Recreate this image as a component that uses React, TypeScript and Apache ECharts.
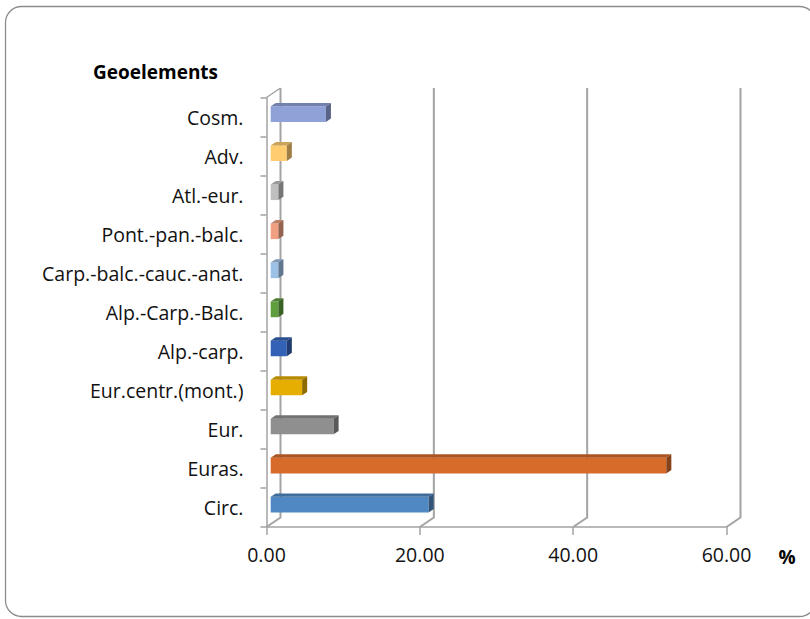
import React, { useEffect, useRef } from "react";
import * as echarts from "echarts";

const categories = [
  "Circ.",
  "Euras.",
  "Eur.",
  "Eur.centr.(mont.)",
  "Alp.-carp.",
  "Alp.-Carp.-Balc.",
  "Carp.-balc.-cauc.-anat.",
  "Pont.-pan.-balc.",
  "Atl.-eur.",
  "Adv.",
  "Cosm.",
];
const values = [20.6, 51.6, 8.2, 4.1, 2.1, 1.0, 1.0, 1.0, 1.0, 2.1, 7.2];
const barColors = [
  "#4F88C2",
  "#D66B2A",
  "#8F8F8F",
  "#E5AE00",
  "#3361B6",
  "#5E9E3C",
  "#9DC0E6",
  "#F0A080",
  "#BFBFBF",
  "#FFCC70",
  "#8FA2D8",
];
const xTicks = [0, 20, 40, 60];
const titleText = "Geoelements";
const unitText = "%";

const FONT = "'Open Sans', 'Liberation Sans', sans-serif";
const WALL_DX = 14;
const WALL_DY = -9.5;
const LINE_COLOR = "#A3A3A3";

function shade(hex: string, f: number): string {
  const n = parseInt(hex.slice(1), 16);
  const r = Math.round(((n >> 16) & 255) * f);
  const g = Math.round(((n >> 8) & 255) * f);
  const b = Math.round((n & 255) * f);
  return `rgb(${r},${g},${b})`;
}

export default function App() {
  const ref = useRef<HTMLDivElement>(null);
  useEffect(() => {
    if (!ref.current) return;
    const chart = echarts.init(ref.current, undefined, { renderer: "svg" });
    const option: any = {
      animation: false,
      backgroundColor: "#ffffff",
      title: {
        text: titleText,
        left: 88,
        top: 57,
        textStyle: { fontFamily: FONT, fontSize: 19, fontWeight: "bold", color: "#000" },
      },
      graphic: [
        {
          type: "rect",
          shape: { x: 5.5, y: 6.5, width: 810, height: 610, r: 16 },
          style: { fill: "none", stroke: "#8C8C8C", lineWidth: 1.3 },
          z: 0,
        },
        {
          type: "text",
          x: 787,
          y: 557,
          style: {
            text: unitText,
            font: `bold 19px ${FONT}`,
            fill: "#000",
            align: "center",
            verticalAlign: "middle",
          },
        },
      ],
      grid: { left: 266.5, top: 97.5, width: 460, height: 429.5, containLabel: false },
      xAxis: {
        type: "value",
        min: 0,
        max: 60,
        interval: 20,
        axisLine: { show: true, lineStyle: { color: LINE_COLOR, width: 1.5 } },
        axisTick: { show: true, length: 8, lineStyle: { color: LINE_COLOR, width: 1.5 } },
        splitLine: { show: false },
        axisLabel: {
          margin: 17,
          fontFamily: FONT,
          fontSize: 19.5,
          color: "#111",
          formatter: (v: number) => v.toFixed(2),
        },
      },
      yAxis: {
        type: "category",
        data: categories,
        axisLine: { show: true, lineStyle: { color: LINE_COLOR, width: 1.5 } },
        axisTick: { show: true, length: 6, lineStyle: { color: LINE_COLOR, width: 1.5 } },
        axisLabel: { margin: 23, fontFamily: FONT, fontSize: 19.5, color: "#111" },
        splitLine: { show: false },
      },
      series: [
        {
          type: "custom",
          name: "walls",
          z: 1,
          clip: false,
          silent: true,
          data: xTicks.map((v) => [v, 0]),
          encode: { x: 0, y: 1 },
          renderItem: (params: any, api: any) => {
            const cs = params.coordSys;
            const x = api.coord([api.value(0), 0])[0];
            const top = cs.y;
            const bottom = cs.y + cs.height;
            const style = { stroke: LINE_COLOR, lineWidth: 2, fill: "none" };
            const children: any[] = [
              {
                type: "polyline",
                shape: {
                  points: [
                    [x + WALL_DX, top + WALL_DY],
                    [x + WALL_DX, bottom + WALL_DY],
                    [x, bottom],
                  ],
                },
                style,
              },
            ];
            if (params.dataIndex === 0) {
              children.push({
                type: "line",
                shape: { x1: x, y1: top, x2: x + WALL_DX, y2: top + WALL_DY },
                style: { stroke: LINE_COLOR, lineWidth: 1.5 },
              });
            }
            return { type: "group", children };
          },
        },
        {
          type: "custom",
          name: "Geoelements",
          z: 3,
          clip: false,
          data: values.map((v, i) => [v, i]),
          encode: { x: 0, y: 1 },
          renderItem: (params: any, api: any) => {
            const v = api.value(0);
            const i = api.value(1);
            const p0 = api.coord([0, i]);
            const p1 = api.coord([v, i]);
            const band = api.size([0, 1])[1];
            const h = band * 0.4;
            const ox = WALL_DX * 0.3;
            const oy = WALL_DY * 0.3;
            const dx = WALL_DX * 0.36;
            const dy = WALL_DY * 0.36;
            const xl = p0[0] + ox;
            const xr = p1[0] + ox;
            const yt = p0[1] + oy - h / 2;
            const yb = yt + h;
            const c = barColors[params.dataIndex];
            return {
              type: "group",
              children: [
                {
                  type: "rect",
                  shape: { x: xl, y: yt, width: xr - xl, height: h },
                  style: { fill: c },
                },
                {
                  type: "polygon",
                  shape: {
                    points: [
                      [xl, yt],
                      [xr, yt],
                      [xr + dx, yt + dy],
                      [xl + dx, yt + dy],
                    ],
                  },
                  style: { fill: shade(c, 0.8) },
                },
                {
                  type: "polygon",
                  shape: {
                    points: [
                      [xr, yt],
                      [xr + dx, yt + dy],
                      [xr + dx, yb + dy],
                      [xr, yb],
                    ],
                  },
                  style: { fill: shade(c, 0.62) },
                },
              ],
            };
          },
        },
      ],
    };
    chart.setOption(option);
    return () => chart.dispose();
  }, []);
  return (
    <div
      ref={ref}
      style={{ position: "fixed", left: 0, top: 0, width: 810, height: 619 }}
    />
  );
}
